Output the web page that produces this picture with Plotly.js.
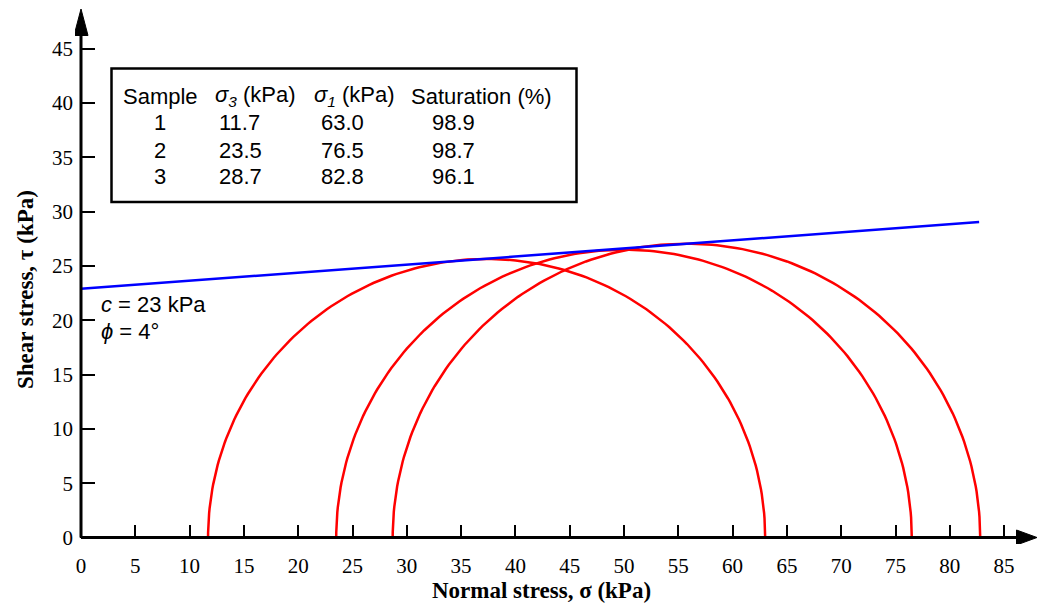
<!DOCTYPE html>
<html><head><meta charset="utf-8">
<script src="https://cdn.plot.ly/plotly-3.0.1.min.js"></script>
<style>body{margin:0;background:#fff}#chart{width:1038px;height:605px}</style>
</head><body><div id="chart"></div>
<script>
// ---- data ----
const samples = ['1', '2', '3'];
const sigma3 = [11.7, 23.5, 28.7];
const sigma1 = [63.0, 76.5, 82.8];
const saturation = ['98.9', '98.7', '96.1'];
const envelopeX = [0, 82.7];
const envelopeY = [22.9, 29.05];
const cohesion = 23;
const frictionAngle = 4;
const xTicks = [0, 5, 10, 15, 20, 25, 30, 35, 40, 45, 50, 55, 60, 65, 70, 75, 80, 85];
const yTicks = [0, 5, 10, 15, 20, 25, 30, 35, 40, 45];
const tableHeader = ['Sample', '<i>σ<sub>3</sub></i> (kPa)', '<i>σ<sub>1</sub></i> (kPa)', 'Saturation (%)'];

// ---- geometry ----
const W = 1038, H = 605, ML = 75, MR = 0, MT = 0, MB = 61;
const PW = W - ML - MR, PH = H - MT - MB;
const X0 = 81, Y0 = 537.5, S = 10.86;
const px2x = p => (p - X0) / S;
const px2y = p => (Y0 - p) / S;
const px2px = p => (p - ML) / PW;
const py2py = p => (H - MB - p) / PH;
const xr = [px2x(ML), px2x(W - MR)];
const yr = [px2y(H - MB), px2y(MT)];

const traces = [];
for (let i = 0; i < samples.length; i++) {
  const c = (sigma3[i] + sigma1[i]) / 2, r = (sigma1[i] - sigma3[i]) / 2;
  const xs = [], ys = [];
  for (let k = 0; k <= 180; k++) {
    const t = Math.PI * k / 180;
    xs.push(c + r * Math.cos(t)); ys.push(r * Math.sin(t));
  }
  traces.push({x: xs, y: ys, mode: 'lines', line: {color: '#ff0000', width: 2.5}, hoverinfo: 'skip', showlegend: false});
}
traces.push({x: envelopeX, y: envelopeY, mode: 'lines', line: {color: '#0000ff', width: 2.5}, hoverinfo: 'skip', showlegend: false});

const serif = 'Liberation Serif, Times New Roman, serif';
const sans = 'Liberation Sans, Arial, sans-serif';
const annotations = [];
function ann(text, xp, yp, opts) {
  annotations.push(Object.assign({text: text, x: px2px(xp), y: py2py(yp), xref: 'paper', yref: 'paper',
    showarrow: false, xanchor: 'left', yanchor: 'middle',
    font: {family: sans, size: 22, color: '#000'}}, opts || {}));
}
// table
const colX = [121, 213, 312, 409];
const rowY = [96, 123, 150, 177];
tableHeader.forEach((h, j) => ann(h, colX[j], rowY[0]));
for (let i = 0; i < samples.length; i++) {
  ann(samples[i], 160, rowY[i + 1], {xanchor: 'center'});
  ann(sigma3[i].toFixed(1), 217, rowY[i + 1]);
  ann(sigma1[i].toFixed(1), 319, rowY[i + 1]);
  ann(saturation[i], 430, rowY[i + 1]);
}
ann('<i>c</i> = ' + cohesion + ' kPa', 99, 304);
ann('<i>ϕ</i> = ' + frictionAngle + '°', 99, 331);
ann('<b>Normal stress, σ (kPa)</b>', 541, 590, {xanchor: 'center', font: {family: serif, size: 23, color: '#000'}});
ann('<b>Shear stress, τ (kPa)</b>', 25, 290, {xanchor: 'center', textangle: -90, font: {family: serif, size: 23, color: '#000'}});

const shapes = [
  {type: 'line', xref: 'x', yref: 'y', x0: 0, y0: 0, x1: px2x(1020), y1: 0, line: {color: '#000', width: 3}},
  {type: 'line', xref: 'x', yref: 'y', x0: 0, y0: 0, x1: 0, y1: px2y(30), line: {color: '#000', width: 3}},
  {type: 'path', xref: 'x', yref: 'y', path: `M ${px2x(1016.5)},${px2y(530)} L ${px2x(1037)},0 L ${px2x(1016.5)},${px2y(545)} Z`, fillcolor: '#000', line: {color: '#000', width: 1}},
  {type: 'path', xref: 'x', yref: 'y', path: `M ${px2x(74)},${px2y(35.5)} L 0,${px2y(9)} L ${px2x(88)},${px2y(35.5)} Z`, fillcolor: '#000', line: {color: '#000', width: 1}},
  {type: 'rect', xref: 'x', yref: 'y', x0: px2x(111.5), x1: px2x(576.5), y0: px2y(68.5), y1: px2y(202), line: {color: '#000', width: 2.5}, fillcolor: 'rgba(0,0,0,0)'}
];

const axisCommon = {showgrid: false, zeroline: false, showline: false, ticks: 'inside', ticklen: 13, tickwidth: 2,
  tickcolor: '#000', tickmode: 'array', anchor: 'free', tickfont: {family: serif, size: 21, color: '#000'}, fixedrange: true};

const layout = {
  width: W, height: H, margin: {l: ML, r: MR, t: MT, b: MB, pad: 0},
  paper_bgcolor: '#fff', plot_bgcolor: '#fff', showlegend: false,
  xaxis: Object.assign({}, axisCommon, {range: xr, tickvals: xTicks, ticktext: xTicks.map(String),
    position: (0 - yr[0]) / (yr[1] - yr[0]), ticklabelstandoff: 13}),
  yaxis: Object.assign({}, axisCommon, {range: yr, tickvals: yTicks, ticktext: yTicks.map(String),
    position: (0 - xr[0]) / (xr[1] - xr[0]), ticklabelstandoff: 8}),
  shapes: shapes, annotations: annotations
};
Plotly.newPlot('chart', traces, layout, {staticPlot: true, displayModeBar: false});
</script></body></html>
